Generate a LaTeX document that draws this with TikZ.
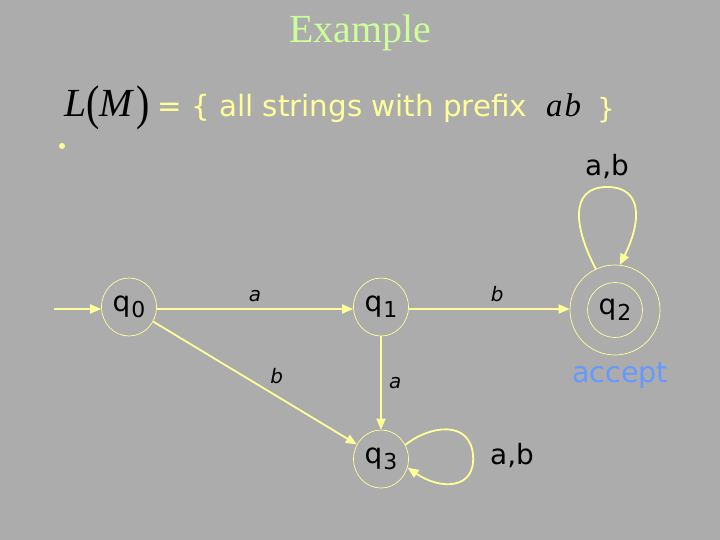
\documentclass[tikz,border=0pt]{standalone}
\usepackage{fontspec}
\setmainfont{Liberation Serif}
\newfontfamily\comic{DejaVu Sans}
\usetikzlibrary{arrows.meta,shapes.geometric}
\definecolor{bg}{RGB}{172,172,172}
\definecolor{ylw}{RGB}{255,255,153}
\definecolor{ttl}{RGB}{204,255,153}
\definecolor{acc}{RGB}{102,153,255}
\newcommand{\qsub}[1]{q\kern1bp\raisebox{-6bp}{\fontsize{22}{22}\selectfont #1}}
\newcommand{\tallparen}[1]{\raisebox{-3bp}{\scalebox{1}[1.22]{#1}}}
\begin{document}
\begin{tikzpicture}[x=1bp,y=-1bp,
  state/.style={ellipse, draw=ylw, line width=0.7bp, minimum width=55bp, minimum height=58bp, inner sep=0pt,
    font=\comic\fontsize{28}{28}\selectfont, text=black},
  inner/.style={circle, draw=ylw, line width=0.7bp, minimum size=55bp, inner sep=0pt,
    font=\comic\fontsize{28}{28}\selectfont, text=black},
  outer/.style={circle, draw=ylw, line width=0.7bp, minimum size=90bp, inner sep=0pt},
  edge/.style={draw=ylw, line width=1.8bp, -{Triangle[length=11bp,width=9bp]}},
  elab/.style={font=\comic\itshape\fontsize{20}{20}\selectfont, text=black},
  llab/.style={font=\comic\fontsize{28}{28}\selectfont, text=black},
]
\fill[bg] (0,0) rectangle (720,540);
\useasboundingbox (0,0) rectangle (720,540);

\node[font=\fontsize{40}{40}\selectfont, text=ttl, anchor=base] (title) at (360,43) {Example};

\node[anchor=base west, inner sep=0pt, text=black, font=\fontsize{40}{40}\selectfont] (lm) at (64,117)
  {\textit{L}\tallparen{(}\textit{M}\kern2bp\tallparen{)}};
\node[anchor=base west, inner sep=0pt, text=ylw, font=\comic\fontsize{26}{26}\selectfont] (set) at (157,117)
  {\resizebox{370bp}{!}{= \{ all strings with prefix}};
\node[anchor=base west, inner sep=0pt, text=black, font=\fontsize{33}{33}\selectfont] (ab) at (546,117) {\textit{a\kern2bp b}};
\node[anchor=base west, inner sep=0pt, text=ylw, font=\comic\fontsize{28}{28}\selectfont] (rb) at (597,119) {\}};
\fill[ylw] (62,146) circle (3);

\node[state] (q0) at (129,307) {\qsub{0}};
\node[state] (q1) at (381,307) {\qsub{1}};
\node[inner] (q2) at (615,310) {\qsub{2}};
\node[outer] (q2o) at (615,310) {};
\node[state] (q3) at (381,459) {\qsub{3}};

\coordinate (start) at (54,309);
\draw[edge] (start) -- (start -| q0.west);
\draw[edge] (q0.east |- 0,309) -- node[elab, above=3bp] {a} (q1.west |- 0,309);
\draw[edge] (q1.east |- 0,309) -- node[elab, above=3bp, pos=0.55] {b} (q2o.west |- 0,309);
\draw[edge] (q0) -- node[elab, above right=1bp, pos=0.55] {b} (q3);
\draw[edge] (q1) -- node[elab, right=4bp] {a} (q3);

\draw[edge] (q3.30) .. controls (430,425) and (470,420) .. (473,455)
  .. controls (476,490) and (440,490) .. (q3.-18);
\node[llab] (l3) at (512,456) {a,b};

\draw[edge] (q2o.115) .. controls (575,230) and (568,187) .. (607,187)
  .. controls (645,187) and (640,225) .. (q2o.84);
\node[llab] (l2) at (607,167) {a,b};

\node[font=\comic\fontsize{29}{29}\selectfont, text=acc, anchor=base] (acc) at (620,382) {\resizebox{96bp}{!}{accept}};
\end{tikzpicture}
\end{document}
